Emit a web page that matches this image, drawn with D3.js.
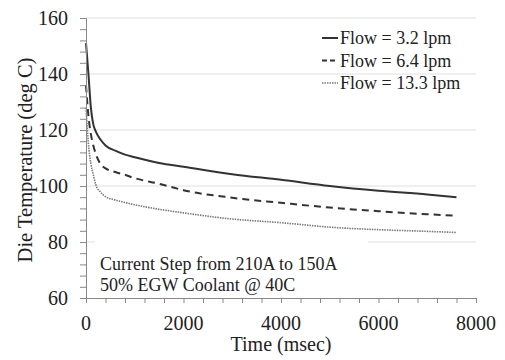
<!DOCTYPE html>
<meta charset="utf-8">
<style>
body { margin: 0; background: #fff; }
text { font-family: "Liberation Serif", "Times New Roman", serif; fill: #222; }
.grid line { stroke: #e0e0e0; }
.axis path, .axis line { stroke: #888; }
</style>
<svg width="505" height="360"></svg>
<script src="https://d3js.org/d3.v7.min.js"></script>
<script>

var time = [0, 50, 100, 150, 200, 300, 400, 600, 800, 1000, 1500, 2000, 3000, 4000, 5000, 6000, 7000, 7600];
var flow32 = [151, 140, 128, 122, 119.5, 116.5, 114.5, 112.6, 111.2, 110.3, 108.2, 106.9, 104.2, 102.2, 100, 98.3, 97, 96];
var flow64 = [136, 125, 118.5, 114.5, 111.5, 107.8, 106.3, 105, 104, 102.8, 100.8, 98.5, 95.8, 94, 92.3, 91, 89.9, 89.4];
var flow133 = [128, 115, 108, 104, 100.5, 97.8, 96.2, 95, 94.1, 93.3, 91.7, 90.4, 88.2, 86.9, 85.3, 84.4, 83.8, 83.4];
var seriesNames = ["Flow = 3.2 lpm", "Flow = 6.4 lpm", "Flow = 13.3 lpm"];
var xTicks = [0, 2000, 4000, 6000, 8000];
var yTicks = [60, 80, 100, 120, 140, 160];

var svg = d3.select("svg"),
    margin = {top: 18, right: 29, bottom: 62, left: 86},
    width = +svg.attr("width") - margin.left - margin.right,
    height = +svg.attr("height") - margin.top - margin.bottom,
    g = svg.append("g").attr("transform", "translate(" + margin.left + "," + margin.top + ")");

var x = d3.scaleLinear().domain([0, 8000]).range([0, width]);
var y = d3.scaleLinear().domain([60, 160]).range([height, 0]);

var styles = [
  {stroke: "#333", width: 2, dash: null, key: null},
  {stroke: "#333", width: 2, dash: "7,5", key: "5,3"},
  {stroke: "#7a7a7a", width: 1.6, dash: "1.5,1", key: "1.5,1"}
];

var series = [flow32, flow64, flow133].map(function(vals, i) {
  return {name: seriesNames[i], style: styles[i], values: time.map(function(t, j) { return [t, vals[j]]; })};
});

// gridlines
g.append("g")
    .attr("class", "grid")
  .selectAll("line")
  .data(yTicks.slice(1))
  .enter().append("line")
    .attr("x1", 0)
    .attr("x2", width)
    .attr("y1", function(d) { return y(d); })
    .attr("y2", function(d) { return y(d); });

// annotation box hides gridline under text
g.append("rect")
    .attr("x", 9)
    .attr("y", y(84))
    .attr("width", 273)
    .attr("height", 50)
    .attr("fill", "#fff");

var line = d3.line()
    .curve(d3.curveMonotoneX)
    .x(function(d) { return x(d[0]); })
    .y(function(d) { return y(d[1]); });

g.selectAll(".serie")
  .data(series)
  .enter().append("path")
    .attr("class", "serie")
    .attr("fill", "none")
    .attr("stroke", function(d) { return d.style.stroke; })
    .attr("stroke-width", function(d) { return d.style.width; })
    .attr("stroke-dasharray", function(d) { return d.style.dash; })
    .attr("d", function(d) { return line(d.values); });

// axes
g.append("g")
    .attr("class", "axis axis--x")
    .attr("transform", "translate(0," + height + ")")
    .call(d3.axisBottom(x).tickValues(d3.range(0, 8001, 400)).tickSize(5).tickFormat(""));

g.append("g")
    .attr("class", "axis axis--y")
    .call(d3.axisLeft(y).tickValues(d3.range(60, 161, 4)).tickSize(6).tickFormat(""));

g.selectAll(".xlabel")
  .data(xTicks)
  .enter().append("text")
    .attr("x", function(d) { return x(d); })
    .attr("y", height + 32)
    .attr("text-anchor", "middle")
    .style("font-size", "20px")
    .text(function(d) { return d; });

g.selectAll(".ylabel")
  .data(yTicks)
  .enter().append("text")
    .attr("x", -18)
    .attr("y", function(d) { return y(d); })
    .attr("dy", "0.35em")
    .attr("text-anchor", "end")
    .style("font-size", "20px")
    .text(function(d) { return d; });

// titles
svg.append("text")
    .attr("x", margin.left + width / 2)
    .attr("y", 351)
    .attr("text-anchor", "middle")
    .style("font-size", "20px")
    .text("Time (msec)");

svg.append("text")
    .attr("transform", "translate(25," + 160 + ") rotate(-90)")
    .attr("dy", "0.35em")
    .attr("text-anchor", "middle")
    .style("font-size", "20.5px")
    .text("Die Temperature (deg C)");

// annotation
g.append("text")
    .attr("x", 14)
    .attr("y", 252)
    .style("font-size", "18px")
    .text("Current Step from 210A to 150A");
g.append("text")
    .attr("x", 14)
    .attr("y", 273)
    .style("font-size", "18px")
    .text("50% EGW Coolant @ 40C");

// legend
var legend = g.selectAll(".legend")
  .data(series)
  .enter().append("g")
    .attr("class", "legend")
    .attr("transform", function(d, i) { return "translate(236," + (20 + i * 22.5) + ")"; });

legend.append("line")
    .attr("x1", 0)
    .attr("x2", 16)
    .attr("stroke", function(d) { return d.style.stroke; })
    .attr("stroke-width", function(d) { return d.style.width; })
    .attr("stroke-dasharray", function(d) { return d.style.key; });

legend.append("text")
    .attr("x", 18)
    .attr("dy", "0.35em")
    .style("font-size", "18px")
    .text(function(d) { return d.name; });

</script>
